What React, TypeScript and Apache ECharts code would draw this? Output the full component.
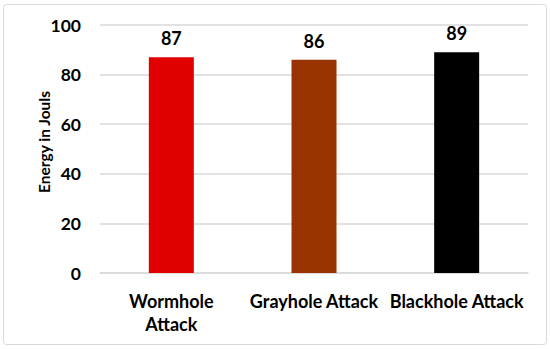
import React, { useEffect, useRef } from "react";
import * as echarts from "echarts";

const categories = ["Wormhole\nAttack", "Grayhole Attack", "Blackhole Attack"];
const energyValues = [87, 86, 89];
const barColors = ["#E00000", "#993300", "#000000"];
const yTitle = "Energy in Jouls";

export default function App() {
  const ref = useRef<HTMLDivElement>(null);
  useEffect(() => {
    const chart = echarts.init(ref.current!, null, { renderer: "svg" });
    const font = "Lato, 'Open Sans', sans-serif";
    chart.setOption({
      animation: false,
      backgroundColor: "#ffffff",
      graphic: [
        {
          type: "rect",
          shape: { x: 3.5, y: 4.5, width: 543, height: 340, r: 3 },
          style: { fill: "none", stroke: "#d9d9d9", lineWidth: 1 },
          silent: true,
          z: -1,
        },
      ],
      grid: { left: 100, right: 22, top: 25, bottom: 76 },
      xAxis: {
        type: "category",
        data: categories,
        axisLine: { show: true, lineStyle: { color: "#d9d9d9", width: 1.5 } },
        axisTick: { show: false },
        axisLabel: {
          color: "#000",
          fontFamily: font,
          fontWeight: "bold",
          fontSize: 18,
          margin: 16,
          lineHeight: 23,
          interval: 0,
        },
      },
      yAxis: {
        type: "value",
        min: 0,
        max: 100,
        interval: 20,
        name: yTitle,
        nameLocation: "middle",
        nameGap: 48,
        nameMoveOverlap: false,
        nameTextStyle: {
          color: "#000",
          fontFamily: font,
          fontWeight: "bold",
          fontSize: 15.5,
          padding: [0, 0, 0, 14],
        },
        axisLine: { show: false },
        axisTick: { show: false },
        splitLine: { lineStyle: { color: "#d9d9d9", width: 1.5 } },
        axisLabel: {
          color: "#000",
          fontFamily: font,
          fontWeight: "bold",
          fontSize: 17.5,
          margin: 19,
        },
      },
      series: [
        {
          type: "bar",
          barWidth: 45,
          data: energyValues.map((v, i) => ({
            value: v,
            itemStyle: { color: barColors[i] },
          })),
          label: {
            show: true,
            position: "top",
            distance: 10,
            color: "#000",
            fontFamily: font,
            fontWeight: "bold",
            fontSize: 18,
          },
        },
      ],
    });
    return () => chart.dispose();
  }, []);
  return (
    <div
      ref={ref}
      style={{ position: "fixed", left: 0, top: 0, width: 550, height: 349 }}
    />
  );
}
